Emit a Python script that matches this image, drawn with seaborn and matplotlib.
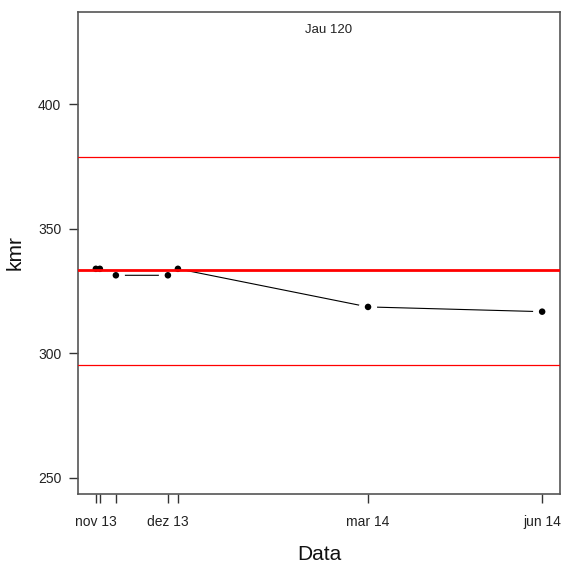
import matplotlib
matplotlib.use("Agg")
import matplotlib.pyplot as plt
import matplotlib.dates as mdates
import seaborn as sns
import pandas as pd
import numpy as np

# ---- data ----
dates = ["2013-11-12", "2013-11-14", "2013-11-22", "2013-12-18",
         "2013-12-23", "2014-03-28", "2014-06-23"]
kmr = [333.9, 333.9, 331.3, 331.3, 333.9, 318.6, 316.7]
tick_labels = ["nov 13", "", "", "dez 13", "", "mar 14", "jun 14"]
center_line = 333.6
upper_line = 378.9
lower_line = 295.2
title_text = "Jau 120"
y_ticks = [250, 300, 350, 400]

df = pd.DataFrame({"Data": pd.to_datetime(dates), "kmr": kmr})

sns.set_style("white")
plt.rcParams["font.family"] = ["Liberation Sans", "DejaVu Sans"]

fig = plt.figure(figsize=(5.64, 5.65), dpi=100)
ax = fig.add_axes([78/564, 1-494/565, (560-78)/564, (494-12)/565])

# line
sns.lineplot(data=df, x="Data", y="kmr", ax=ax, color="black", linewidth=0.8,
             zorder=2)
# white halos create R type="b" gaps
sns.scatterplot(data=df, x="Data", y="kmr", ax=ax, color="white", s=170,
                edgecolor="none", zorder=3)
sns.scatterplot(data=df, x="Data", y="kmr", ax=ax, color="black", s=22,
                edgecolor="none", zorder=4)

ax.axhline(center_line, color="red", linewidth=2.0, zorder=5)
ax.axhline(upper_line, color="#ff0000", linewidth=0.9, zorder=5)
ax.axhline(lower_line, color="#ff0000", linewidth=0.9, zorder=5)

xn = mdates.date2num(df["Data"])
span = xn.max() - xn.min()
ax.set_xlim(xn.min() - 0.04*span, xn.max() + 0.04*span)
ax.set_ylim(243.5, 437.0)

ax.set_xticks(xn)
ax.set_xticklabels(tick_labels)
ax.set_yticks(y_ticks)
ax.set_yticklabels([str(v) for v in y_ticks])

ax.tick_params(axis="both", which="major", direction="out", length=6.5,
               width=1.0, color="#333333", labelsize=10, labelcolor="#222222",
               pad=5.5, bottom=True, left=True)
ax.tick_params(axis="x", pad=8.5)

for s in ax.spines.values():
    s.set_visible(True)
    s.set_color("#555555")
    s.set_linewidth(1.2)

ax.set_xlabel("Data", fontsize=15, color="#111111")
ax.set_ylabel("kmr", fontsize=15, color="#111111")
ax.xaxis.set_label_coords(0.5, -0.106)
ax.yaxis.set_label_coords(-0.11, 0.5)

ax.text(0.52, 0.962, title_text, transform=ax.transAxes, ha="center",
        va="center", fontsize=9.5, color="#222222")

fig.savefig("out.png", dpi=100, facecolor="white")
